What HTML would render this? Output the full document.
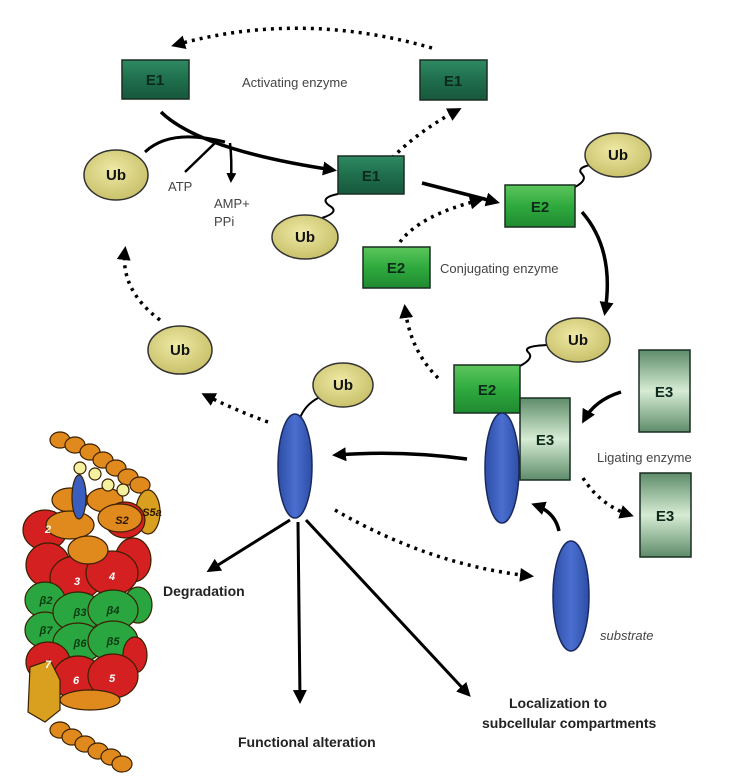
<!DOCTYPE html>
<html><head><meta charset="utf-8"><style>
body{margin:0;background:#fff}
svg{display:block}
text{font-family:"Liberation Sans",Arial,sans-serif}
</style></head><body>
<svg width="732" height="780" viewBox="0 0 732 780" xmlns="http://www.w3.org/2000/svg">
<defs>
<linearGradient id="g1" x1="0" y1="0" x2="0" y2="1"><stop offset="0" stop-color="#2f8a63"/><stop offset="0.5" stop-color="#1f6e4c"/><stop offset="1" stop-color="#17583c"/></linearGradient>
<linearGradient id="g2" x1="0" y1="0" x2="0" y2="1"><stop offset="0" stop-color="#5cc65c"/><stop offset="0.5" stop-color="#2faa3e"/><stop offset="1" stop-color="#1f8a30"/></linearGradient>
<linearGradient id="g3" x1="0" y1="0" x2="0" y2="1"><stop offset="0" stop-color="#5e8c6a"/><stop offset="0.5" stop-color="#d6ecd4"/><stop offset="1" stop-color="#5e8c6a"/></linearGradient>
<radialGradient id="ub" cx="0.45" cy="0.4" r="0.6"><stop offset="0" stop-color="#eee9a6"/><stop offset="1" stop-color="#c9c16a"/></radialGradient>
<linearGradient id="bl" x1="0" y1="0" x2="1" y2="0"><stop offset="0" stop-color="#2d4ea6"/><stop offset="0.5" stop-color="#4a6fd0"/><stop offset="1" stop-color="#2d4ea6"/></linearGradient>
<marker id="ah" markerWidth="10" markerHeight="10" refX="7" refY="5" orient="auto" markerUnits="userSpaceOnUse"><path d="M0,0 L10,5 L0,10 Z" fill="#000"/></marker>
<marker id="ahb" markerWidth="14" markerHeight="14" refX="10" refY="7" orient="auto" markerUnits="userSpaceOnUse"><path d="M0,0 L14,7 L0,14 Z" fill="#000"/></marker>
</defs>
<g stroke="#000" fill="none" stroke-width="3.5">
<!-- dotted arrows -->
<g stroke-dasharray="3 5">
<path d="M432,48 Q300,10 175,45" marker-end="url(#ahb)"/>
<path d="M392,158 Q420,130 458,110" marker-end="url(#ahb)"/>
<path d="M400,242 Q420,215 480,200" marker-end="url(#ahb)"/>
<path d="M438,378 Q410,350 405,308" marker-end="url(#ahb)"/>
<path d="M160,320 Q120,290 125,250" marker-end="url(#ahb)"/>
<path d="M268,422 Q235,410 205,395" marker-end="url(#ahb)"/>
<path d="M335,510 Q430,565 530,576" marker-end="url(#ahb)"/>
<path d="M583,478 Q600,505 630,515" marker-end="url(#ahb)"/>
</g>
<!-- solid arrows -->
<path d="M161,112 Q200,150 333,170" marker-end="url(#ahb)"/>
<path d="M145,152 Q170,128 225,142" stroke-width="3"/>
<path d="M185,172 L215,143" stroke-width="2.5"/>
<path d="M230,143 Q232,160 231,180" stroke-width="2.5" marker-end="url(#ah)"/>
<path d="M422,183 L496,202" marker-end="url(#ahb)"/>
<path d="M582,212 Q615,250 605,312" marker-end="url(#ahb)"/>
<path d="M621,392 Q595,400 584,420" marker-end="url(#ahb)"/>
<path d="M559,531 Q555,512 535,505" marker-end="url(#ahb)"/>
<path d="M467,459 Q400,450 336,455" marker-end="url(#ahb)"/>
<path d="M290,520 L210,570" stroke-width="3" marker-end="url(#ahb)"/>
<path d="M298,522 L300,700" stroke-width="3" marker-end="url(#ahb)"/>
<path d="M306,520 L468,694" stroke-width="3" marker-end="url(#ahb)"/>
<!-- squiggles -->
<path d="M338,194 Q318,198 330,206 Q340,212 322,218" stroke-width="2"/>
<path d="M575,187 Q588,180 582,174 Q576,168 590,165" stroke-width="2"/>
<path d="M520,366 Q535,358 528,352 Q522,346 548,345" stroke-width="2"/>
<path d="M300,418 Q305,405 318,398" stroke-width="2"/>
</g>
<!-- boxes -->
<g stroke="#1a2e22" stroke-width="1.5">
<rect x="122" y="60" width="67" height="39" fill="url(#g1)"/>
<rect x="420" y="60" width="67" height="40" fill="url(#g1)"/>
<rect x="338" y="156" width="66" height="38" fill="url(#g1)"/>
<rect x="505" y="185" width="70" height="42" fill="url(#g2)"/>
<rect x="363" y="247" width="67" height="41" fill="url(#g2)"/>
<rect x="454" y="365" width="66" height="48" fill="url(#g2)"/>
<rect x="520" y="398" width="50" height="82" fill="url(#g3)"/>
<rect x="639" y="350" width="51" height="82" fill="url(#g3)"/>
<rect x="640" y="473" width="51" height="84" fill="url(#g3)"/>
</g>
<g stroke="#333" stroke-width="1.5" fill="url(#ub)">
<ellipse cx="116" cy="175" rx="32" ry="25"/>
<ellipse cx="305" cy="237" rx="33" ry="22"/>
<ellipse cx="618" cy="155" rx="33" ry="22"/>
<ellipse cx="578" cy="340" rx="32" ry="22"/>
<ellipse cx="343" cy="385" rx="30" ry="22"/>
<ellipse cx="180" cy="350" rx="32" ry="24"/>
</g>
<g stroke="#1a2a60" stroke-width="1.5" fill="url(#bl)">
<ellipse cx="502" cy="468" rx="17" ry="55"/>
<ellipse cx="295" cy="466" rx="17" ry="52"/>
<ellipse cx="571" cy="596" rx="18" ry="55"/>
</g>
<g font-weight="bold" font-size="15" text-anchor="middle" fill="#111">
<text x="155" y="85" fill="#0c2a1a">E1</text><text x="453" y="86" fill="#0c2a1a">E1</text><text x="371" y="181" fill="#0c2a1a">E1</text>
<text x="540" y="212" fill="#0c2a1a">E2</text><text x="396" y="273" fill="#0c2a1a">E2</text><text x="487" y="395" fill="#0c2a1a">E2</text>
<text x="545" y="445" fill="#0c2a1a">E3</text><text x="664" y="397" fill="#0c2a1a">E3</text><text x="665" y="521" fill="#0c2a1a">E3</text>
<text x="116" y="180">Ub</text><text x="305" y="242">Ub</text><text x="618" y="160">Ub</text><text x="578" y="345">Ub</text><text x="343" y="390">Ub</text><text x="180" y="355">Ub</text>
</g>
<g font-size="13" fill="#444">
<text x="242" y="87">Activating enzyme</text>
<text x="440" y="273">Conjugating enzyme</text>
<text x="597" y="462">Ligating enzyme</text>
<text x="168" y="191">ATP</text>
<text x="214" y="208">AMP+</text><text x="214" y="226">PPi</text>
<text x="600" y="640" font-style="italic">substrate</text>
</g>
<g font-size="14" font-weight="bold" fill="#222">
<text x="163" y="596">Degradation</text>
<text x="238" y="747">Functional alteration</text>
<text x="509" y="708">Localization to</text>
<text x="482" y="728">subcellular compartments</text>
</g>
<!-- proteasome -->
<g stroke="#3a2000" stroke-width="1.2">
<g fill="#e08a1e">
<ellipse cx="60" cy="440" rx="10" ry="8"/><ellipse cx="75" cy="445" rx="10" ry="8"/><ellipse cx="90" cy="452" rx="10" ry="8"/><ellipse cx="103" cy="460" rx="10" ry="8"/><ellipse cx="116" cy="468" rx="10" ry="8"/><ellipse cx="128" cy="477" rx="10" ry="8"/><ellipse cx="140" cy="485" rx="10" ry="8"/>
<ellipse cx="70" cy="500" rx="18" ry="12"/><ellipse cx="105" cy="500" rx="18" ry="12"/>
</g>
<ellipse cx="148" cy="512" rx="12" ry="22" fill="#d9a020"/>
<g fill="#d42020">
<ellipse cx="45" cy="530" rx="22" ry="20"/><ellipse cx="125" cy="520" rx="20" ry="18"/>
<ellipse cx="48" cy="565" rx="22" ry="22"/><ellipse cx="133" cy="560" rx="18" ry="22"/>
<ellipse cx="76" cy="578" rx="26" ry="22"/><ellipse cx="112" cy="573" rx="26" ry="22"/>
</g>
<g fill="#e08a1e"><ellipse cx="70" cy="525" rx="24" ry="14"/><ellipse cx="120" cy="518" rx="22" ry="14"/><ellipse cx="88" cy="550" rx="20" ry="14"/></g>
<g fill="#2aa640">
<ellipse cx="45" cy="600" rx="20" ry="18"/><ellipse cx="45" cy="630" rx="20" ry="18"/><ellipse cx="138" cy="605" rx="14" ry="18"/>
<ellipse cx="78" cy="612" rx="25" ry="20"/><ellipse cx="113" cy="610" rx="25" ry="20"/>
<ellipse cx="78" cy="643" rx="25" ry="20"/><ellipse cx="113" cy="641" rx="25" ry="20"/>
</g>
<g fill="#d42020">
<ellipse cx="48" cy="662" rx="22" ry="20"/><ellipse cx="135" cy="655" rx="12" ry="18"/>
<ellipse cx="78" cy="678" rx="25" ry="22"/><ellipse cx="113" cy="676" rx="25" ry="22"/>
</g>
<g fill="#e08a1e"><ellipse cx="90" cy="700" rx="30" ry="10"/>
<ellipse cx="60" cy="730" rx="10" ry="8"/><ellipse cx="72" cy="737" rx="10" ry="8"/><ellipse cx="85" cy="744" rx="10" ry="8"/><ellipse cx="98" cy="751" rx="10" ry="8"/><ellipse cx="111" cy="757" rx="10" ry="8"/><ellipse cx="122" cy="764" rx="10" ry="8"/></g>
<path d="M30,667 L50,660 L60,680 L60,710 L45,722 L28,712 Z" fill="#d9a020"/>
<g fill="#f3f0a0"><circle cx="80" cy="468" r="6"/><circle cx="95" cy="474" r="6"/><circle cx="108" cy="485" r="6"/><circle cx="123" cy="490" r="6"/></g>
<ellipse cx="79" cy="497" rx="7" ry="22" fill="#3a5ec0"/>
</g>
<g font-size="11" font-weight="bold" font-style="italic" fill="#fff" text-anchor="middle">
<text x="48" y="533">2</text><text x="77" y="585">3</text><text x="112" y="580">4</text>
<text x="46" y="604" fill="#0a3a10">β2</text><text x="80" y="616" fill="#0a3a10">β3</text><text x="113" y="614" fill="#0a3a10">β4</text>
<text x="46" y="634" fill="#0a3a10">β7</text><text x="80" y="647" fill="#0a3a10">β6</text><text x="113" y="645" fill="#0a3a10">β5</text>
<text x="48" y="668">7</text><text x="76" y="684">6</text><text x="112" y="682">5</text>
<text x="122" y="524" fill="#2a1500">S2</text><text x="152" y="516" fill="#2a1500">S5a</text>
</g>
</svg>
</body></html>
